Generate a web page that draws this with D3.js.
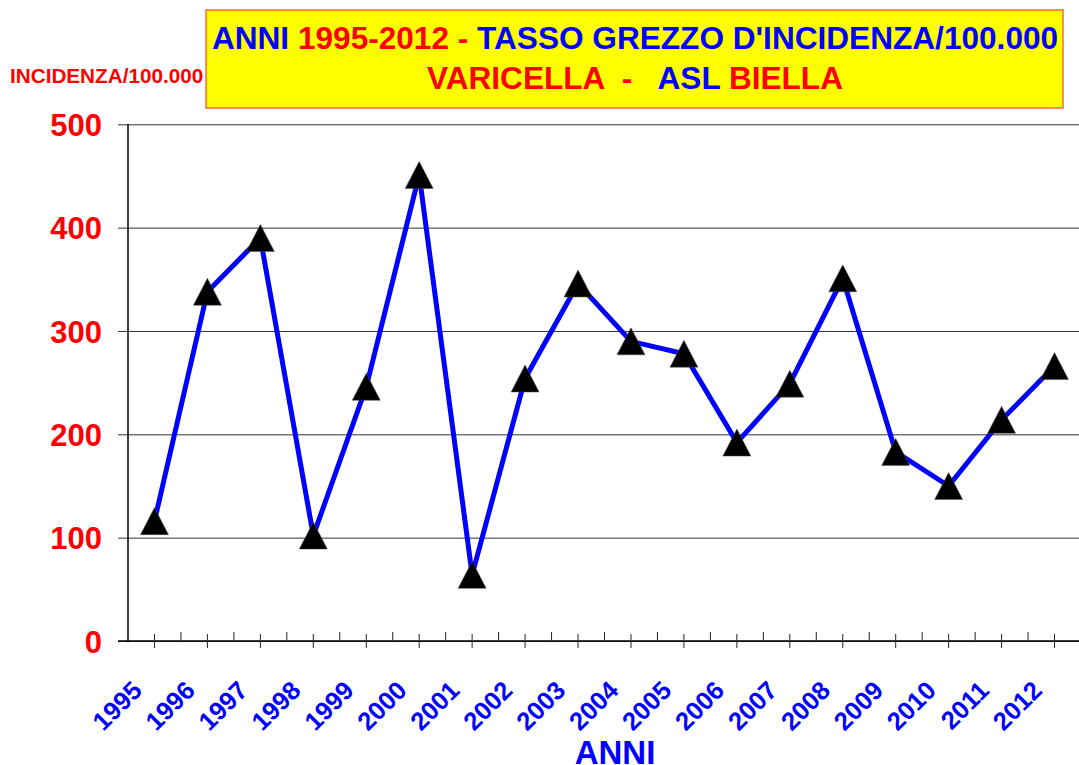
<!DOCTYPE html>
<html>
<head>
<meta charset="utf-8">
<script src="https://cdn.jsdelivr.net/npm/d3@7"></script>
<style>
    body { margin: 0; background: #fff; }
    svg { display: block; font-family: "Liberation Sans", Arial, sans-serif; font-weight: bold; }
    text { white-space: pre; }
</style>
</head>
<body>
<svg width="1079" height="765"></svg>
<script>
// dati
let anni = ["1995", "1996", "1997", "1998", "1999", "2000", "2001", "2002", "2003",
    "2004", "2005", "2006", "2007", "2008", "2009", "2010", "2011", "2012"];
let incidenza = [116, 338, 390, 102, 246, 451, 64, 254, 346, 290, 278, 192, 249, 351, 183, 150, 214, 266];
let yTicks = [0, 100, 200, 300, 400, 500];

let svg = d3.select("svg");

let plotLeft = 128, plotRight = 1081, plotTop = 124.3, plotBottom = 641;

let x = d3.scaleBand().domain(anni).range([plotLeft, plotRight]);
let y = d3.scaleLinear().domain([0, 500]).range([plotBottom, plotTop]);
let cx = function(d) { return x(d) + x.bandwidth() / 2; };

// gridlines + y axis
let yAxis = svg.append("g")
    .attr("transform", "translate(" + plotLeft + ",0)")
    .call(d3.axisLeft(y).tickValues(yTicks).tickSizeOuter(0).tickSizeInner(-(plotRight - plotLeft)).tickPadding(26));
yAxis.select(".domain").remove();
yAxis.selectAll(".tick line")
    .attr("x1", -10)
    .attr("stroke", "#333")
    .attr("stroke-width", 1);
yAxis.selectAll(".tick text")
    .attr("fill", "#ff0000")
    .attr("font-size", 31)
    .attr("font-family", "Liberation Sans, Arial, sans-serif")
    .attr("font-weight", "bold")
    .attr("dy", "0.36em");

svg.append("line")
    .attr("x1", plotLeft).attr("x2", plotLeft)
    .attr("y1", plotTop).attr("y2", plotBottom)
    .attr("stroke", "#000").attr("stroke-width", 1.5);

// x axis
let xAxis = svg.append("g")
    .attr("transform", "translate(0," + plotBottom + ")")
    .call(d3.axisBottom(x).tickSizeOuter(0).tickSizeInner(7));
xAxis.select(".domain")
    .attr("d", "M" + (plotLeft - 10) + ",0H" + plotRight)
    .attr("stroke", "#000").attr("stroke-width", 1.5);
xAxis.selectAll(".tick line")
    .attr("y1", -7)
    .attr("stroke", "#222");
xAxis.selectAll(".tick text")
    .attr("fill", "#0000ff")
    .attr("font-size", 25.5)
    .attr("font-family", "Liberation Sans, Arial, sans-serif")
    .attr("font-weight", "bold")
    .attr("text-anchor", "end")
    .attr("x", 0).attr("y", 0).attr("dy", 0)
    .attr("transform", "translate(-11,51) rotate(-45)");

// minor ticks ai bordi delle categorie
svg.append("g")
    .selectAll("line")
    .data(anni.slice(1))
    .enter().append("line")
    .attr("x1", function(d) { return x(d); })
    .attr("x2", function(d) { return x(d); })
    .attr("y1", plotBottom - 9)
    .attr("y2", plotBottom)
    .attr("stroke", "#222");

// linea
let line = d3.line()
    .x(function(d, i) { return cx(anni[i]); })
    .y(function(d) { return y(d); });

svg.append("path")
    .datum(incidenza)
    .attr("d", line)
    .attr("fill", "none")
    .attr("stroke", "#0000ff")
    .attr("stroke-width", 5)
    .attr("stroke-linejoin", "miter");

// marker triangolari
svg.append("g")
    .selectAll("path")
    .data(incidenza)
    .enter().append("path")
    .attr("d", function(d, i) {
        let px = cx(anni[i]), py = y(d);
        return "M" + px + "," + (py - 13.5) + "L" + (px + 14) + "," + (py + 13.5) + "L" + (px - 14) + "," + (py + 13.5) + "Z";
    })
    .attr("fill", "#000")
    .attr("stroke", "#555")
    .attr("stroke-width", 0.5);

// titolo
svg.append("rect")
    .attr("x", 206).attr("y", 10)
    .attr("width", 857).attr("height", 98)
    .attr("fill", "#ffff00")
    .attr("stroke", "#ff6a33")
    .attr("stroke-width", 1.5);

let t1 = svg.append("text")
    .attr("x", 635).attr("y", 49)
    .attr("text-anchor", "middle")
    .attr("font-size", 31.6);
t1.append("tspan").attr("fill", "#0000ff").text("ANNI ");
t1.append("tspan").attr("fill", "#ff0000").text("1995-2012 - ");
t1.append("tspan").attr("fill", "#0000ff").text("TASSO GREZZO D'INCIDENZA/100.000");

let t2 = svg.append("text")
    .attr("x", 635).attr("y", 89)
    .attr("text-anchor", "middle")
    .attr("font-size", 31.6);
t2.append("tspan").attr("fill", "#ff0000").text("VARICELLA  -   ");
t2.append("tspan").attr("fill", "#0000ff").text("ASL ");
t2.append("tspan").attr("fill", "#ff0000").text("BIELLA");

svg.append("text")
    .attr("x", 10).attr("y", 83)
    .attr("font-size", 20.7)
    .attr("fill", "#ff0000")
    .text("INCIDENZA/100.000");

svg.append("text")
    .attr("x", 615).attr("y", 764)
    .attr("text-anchor", "middle")
    .attr("font-size", 33)
    .attr("fill", "#0000ff")
    .text("ANNI");
</script>
</body>
</html>
